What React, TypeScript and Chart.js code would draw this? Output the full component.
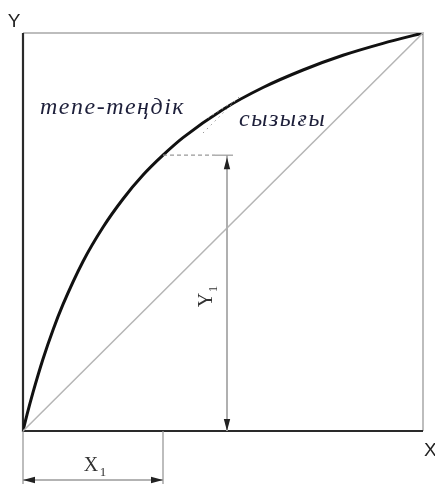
import React, { useEffect, useRef } from "react";
import { Chart, registerables } from "chart.js";

Chart.register(...registerables);

// Equilibrium curve, fractions of the box
const curveX = [0, 0.01, 0.025, 0.05, 0.075, 0.1, 0.15, 0.2, 0.25, 0.3, 0.35, 0.4, 0.5, 0.6, 0.7, 0.8, 0.9, 1.0];
const curveY = [0, 0.041, 0.097, 0.181, 0.254, 0.318, 0.426, 0.512, 0.583, 0.643, 0.693, 0.737, 0.808, 0.863, 0.907, 0.944, 0.974, 1.0];
// Diagonal line
const diagX = [0, 1];
const diagY = [0, 1];
// Dimension markers
const x1Value = 0.35;
const y1Value = 0.693;
const y1LineX = 0.51;
// Texts
const axisLabels = { x: "X", y: "Y" };
const curveLabel1 = "тепе-теңдік";
const curveLabel2 = "сызығы";

function arrow(ctx: CanvasRenderingContext2D, x: number, y: number, dx: number, dy: number) {
  const len = 12;
  const w = 3.2;
  const px = -dy, py = dx;
  ctx.beginPath();
  ctx.moveTo(x, y);
  ctx.lineTo(x - dx * len + px * w, y - dy * len + py * w);
  ctx.lineTo(x - dx * len - px * w, y - dy * len - py * w);
  ctx.closePath();
  ctx.fill();
}

const decorPlugin = {
  id: "decor",
  beforeDatasetsDraw(chart: any) {
    const { ctx, chartArea: a } = chart;
    ctx.save();
    ctx.strokeStyle = "#bdbdbd";
    ctx.lineWidth = 2;
    ctx.beginPath();
    ctx.moveTo(a.left, a.top);
    ctx.lineTo(a.right, a.top);
    ctx.lineTo(a.right, a.bottom);
    ctx.stroke();
    ctx.strokeStyle = "#2a2a2a";
    ctx.lineWidth = 2.2;
    ctx.beginPath();
    ctx.moveTo(a.left, a.top);
    ctx.lineTo(a.left, a.bottom);
    ctx.lineTo(a.right, a.bottom);
    ctx.stroke();
    ctx.restore();
  },
  afterDraw(chart: any) {
    const { ctx, chartArea: a, scales } = chart;
    const xs = scales.x, ys = scales.y;
    ctx.save();
    ctx.fillStyle = "#222";
    ctx.font = '19px "Liberation Sans"';
    ctx.textAlign = "center";
    ctx.textBaseline = "alphabetic";
    ctx.fillText(axisLabels.y, 14, 27);
    ctx.textAlign = "left";
    ctx.fillText(axisLabels.x, a.right + 1, 456);

    // X1 dimension
    const x0 = xs.getPixelForValue(0);
    const x1 = xs.getPixelForValue(x1Value);
    const dimY = 480;
    ctx.strokeStyle = "#9a9a9a";
    ctx.lineWidth = 1.3;
    ctx.beginPath();
    ctx.moveTo(x0, a.bottom);
    ctx.lineTo(x0, 484);
    ctx.moveTo(x1, a.bottom);
    ctx.lineTo(x1, 484);
    ctx.moveTo(x0, dimY);
    ctx.lineTo(x1, dimY);
    ctx.stroke();
    ctx.fillStyle = "#222";
    arrow(ctx, x0, dimY, -1, 0);
    arrow(ctx, x1, dimY, 1, 0);
    ctx.font = '20px "Liberation Serif", "Times New Roman", serif';
    ctx.textAlign = "center";
    ctx.fillStyle = "#333";
    ctx.fillText("X", 91, 471);
    ctx.font = '13px "Liberation Serif", serif';
    ctx.fillText("1", 103, 476);

    // Y1 dimension
    const yx = xs.getPixelForValue(y1LineX);
    const yTop = ys.getPixelForValue(y1Value);
    const yCurveX = xs.getPixelForValue(x1Value);
    ctx.strokeStyle = "#b0b0b0";
    ctx.lineWidth = 2;
    ctx.beginPath();
    ctx.moveTo(yx, yTop);
    ctx.lineTo(yx, a.bottom);
    ctx.stroke();
    ctx.strokeStyle = "#999";
    ctx.lineWidth = 1.2;
    ctx.beginPath();
    ctx.moveTo(yx - 12, yTop);
    ctx.lineTo(yx + 6, yTop);
    ctx.stroke();
    ctx.setLineDash([4, 3]);
    ctx.beginPath();
    ctx.moveTo(yCurveX, yTop);
    ctx.lineTo(yx - 12, yTop);
    ctx.stroke();
    ctx.setLineDash([]);
    ctx.fillStyle = "#222";
    arrow(ctx, yx, yTop + 2, 0, -1);
    arrow(ctx, yx, a.bottom, 0, 1);
    ctx.save();
    ctx.translate(212, 300);
    ctx.rotate(-Math.PI / 2);
    ctx.fillStyle = "#333";
    ctx.textAlign = "center";
    ctx.font = '20px "Liberation Serif", serif';
    ctx.fillText("Y", 0, 0);
    ctx.font = '13px "Liberation Serif", serif';
    ctx.fillText("1", 11, 5);
    ctx.restore();

    // dotted leader near curve
    ctx.strokeStyle = "#9a9a9a";
    ctx.lineWidth = 1;
    ctx.setLineDash([1.5, 4]);
    ctx.beginPath();
    ctx.moveTo(203, 133);
    ctx.lineTo(240, 96);
    ctx.moveTo(208, 118);
    ctx.lineTo(233, 102);
    ctx.stroke();
    ctx.setLineDash([]);

    // curve labels
    ctx.fillStyle = "#1d1f3a";
    ctx.font = 'italic 24px "Liberation Serif", serif';
    ctx.textAlign = "left";
    (ctx as any).letterSpacing = "1.5px";
    ctx.fillText(curveLabel1, 40, 114);
    ctx.fillText(curveLabel2, 239, 126);
    ctx.restore();
  },
};

export default function App() {
  const ref = useRef<HTMLCanvasElement>(null);
  useEffect(() => {
    if (!ref.current) return;
    const chart = new Chart(ref.current, {
      type: "line",
      data: {
        datasets: [
          {
            data: diagX.map((x, i) => ({ x, y: diagY[i] })),
            borderColor: "#b5b5b5",
            borderWidth: 1.5,
            pointRadius: 0,
            tension: 0,
          },
          {
            data: curveX.map((x, i) => ({ x, y: curveY[i] })),
            borderColor: "#111",
            borderWidth: 3,
            pointRadius: 0,
            cubicInterpolationMode: "monotone",
          },
        ],
      },
      options: {
        responsive: false,
        animation: false,
        layout: { padding: { left: 23, top: 33, right: 12, bottom: 54 } },
        plugins: { legend: { display: false }, tooltip: { enabled: false } },
        scales: {
          x: { type: "linear", min: 0, max: 1, display: false },
          y: { type: "linear", min: 0, max: 1, display: false },
        },
      },
      plugins: [decorPlugin],
    });
    return () => chart.destroy();
  }, []);
  return (
    <div style={{ position: "fixed", left: 0, top: 0, width: 435, height: 485, background: "#fff" }}>
      <canvas ref={ref} width={435} height={485} style={{ display: "block" }} />
    </div>
  );
}
